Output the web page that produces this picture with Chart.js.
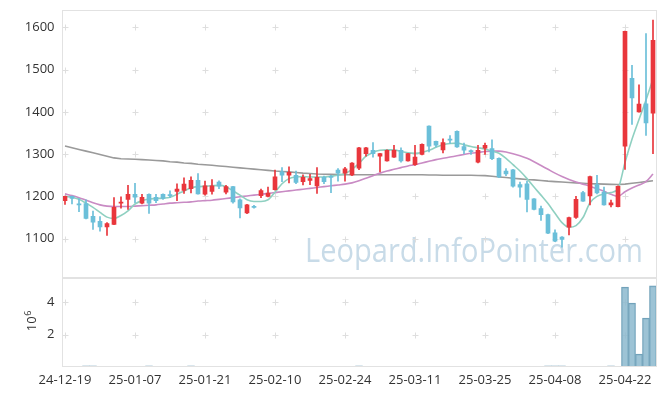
<!DOCTYPE html>
<html><head><meta charset="utf-8">
<script src="https://cdn.jsdelivr.net/npm/chart.js@4/dist/chart.umd.min.js"></script>
<style>html,body{margin:0;padding:0;background:#fff;overflow:hidden}</style>
</head><body>
<canvas id="c" width="665" height="396"></canvas>
<script>
const dates = ["24-12-19","24-12-20","24-12-23","24-12-24","24-12-26","24-12-27","24-12-30","25-01-02","25-01-03","25-01-06",
"25-01-07","25-01-08","25-01-09","25-01-10","25-01-13","25-01-14","25-01-15","25-01-16","25-01-17","25-01-20",
"25-01-21","25-01-22","25-01-23","25-01-24","25-01-31","25-02-03","25-02-04","25-02-05","25-02-06","25-02-07",
"25-02-10","25-02-11","25-02-12","25-02-13","25-02-14","25-02-17","25-02-18","25-02-19","25-02-20","25-02-21",
"25-02-24","25-02-25","25-02-26","25-02-27","25-02-28","25-03-04","25-03-05","25-03-06","25-03-07","25-03-10",
"25-03-11","25-03-12","25-03-13","25-03-14","25-03-17","25-03-18","25-03-19","25-03-20","25-03-21","25-03-24",
"25-03-25","25-03-26","25-03-27","25-03-28","25-03-31","25-04-01","25-04-02","25-04-03","25-04-04","25-04-07",
"25-04-08","25-04-09","25-04-10","25-04-11","25-04-14","25-04-15","25-04-16","25-04-17","25-04-18","25-04-21",
"25-04-22","25-04-23","25-04-24","25-04-25","25-04-28"];

const opens = [1190,1200,1182,1183,1153,1141,1128,1134,1184,1193,
1205,1184,1205,1198,1205,1204,1212,1214,1218,1238,
1205,1212,1234,1210,1223,1192,1161,1176,1202,1200,
1216,1258,1250,1250,1235,1238,1225,1245,1247,1262,
1255,1251,1267,1301,1309,1295,1284,1293,1309,1284,
1275,1299,1366,1330,1310,1335,1354,1318,1308,1281,
1314,1313,1290,1260,1263,1228,1230,1194,1171,1157,
1114,1104,1127,1150,1209,1201,1228,1210,1180,1176,
1319,1479,1400,1419,1397];
const highs = [1201,1201,1195,1192,1165,1152,1138,1197,1199,1226,
1231,1205,1206,1205,1206,1213,1230,1244,1246,1254,
1236,1240,1237,1226,1224,1194,1181,1179,1217,1222,
1262,1268,1270,1260,1251,1252,1268,1248,1250,1266,
1269,1280,1316,1316,1327,1302,1310,1321,1315,1302,
1321,1324,1367,1331,1336,1344,1355,1326,1310,1321,
1326,1334,1291,1266,1264,1234,1236,1195,1177,1158,
1121,1105,1151,1200,1212,1248,1250,1222,1191,1225,
1591,1510,1464,1585,1617];
const lows = [1181,1182,1164,1147,1122,1118,1108,1133,1172,1169,
1185,1182,1160,1185,1193,1197,1190,1207,1208,1205,
1203,1205,1218,1206,1184,1149,1159,1172,1197,1199,
1215,1235,1232,1230,1227,1228,1207,1230,1209,1236,
1236,1249,1263,1295,1293,1258,1283,1292,1281,1283,
1273,1298,1305,1317,1303,1325,1316,1301,1299,1279,
1299,1287,1244,1249,1222,1198,1163,1168,1143,1112,
1093,1080,1109,1148,1188,1180,1206,1179,1175,1175,
1264,1370,1399,1344,1301];
const closes = [1200,1195,1180,1148,1139,1128,1136,1174,1186,1205,
1198,1198,1184,1190,1195,1202,1217,1229,1238,1206,
1225,1225,1224,1223,1187,1173,1180,1174,1214,1208,
1246,1250,1257,1233,1245,1242,1245,1235,1245,1255,
1265,1279,1315,1315,1301,1301,1309,1309,1284,1301,
1293,1323,1319,1321,1327,1333,1317,1309,1306,1309,
1321,1289,1246,1253,1224,1222,1193,1169,1157,1113,
1094,1098,1150,1193,1189,1247,1208,1180,1185,1224,
1590,1433,1418,1374,1569];

const maShort = [1200,1198,1193,1184,1174,1162,1151,1148,1155,1166,
1182,1190,1194,1195,1196,1198,1205,1213,1220,1223,
1224,1225,1226,1223,1213,1203,1192,1188,1188,1192,
1210,1230,1242,1246,1247,1246,1246,1246,1248,1250,
1254,1264,1278,1295,1304,1309,1310,1310,1306,1303,
1302,1304,1309,1316,1322,1325,1326,1322,1318,1315,
1312,1307,1302,1290,1275,1260,1242,1222,1203,1183,
1160,1138,1127,1131,1150,1185,1200,1206,1209,1218,
1280,1335,1382,1428,1478];
const maMid = [1206,1202,1197,1191,1185,1180,1177,1176,1176,1176,
1177,1178,1179,1180,1182,1184,1185,1186,1187,1189,
1190,1191,1193,1195,1197,1199,1201,1203,1205,1207,
1209,1211,1213,1215,1217,1219,1221,1223,1225,1227,
1229,1232,1237,1243,1249,1255,1260,1264,1268,1272,
1275,1279,1283,1287,1290,1293,1296,1299,1302,1304,
1306,1307,1307,1305,1301,1296,1290,1282,1273,1264,
1255,1247,1240,1234,1229,1224,1218,1212,1205,1200,
1211,1220,1227,1235,1253];
const maLong = [1319,1315,1311,1307,1303,1299,1295,1291,1289,1288.5,
1288,1287,1286,1285,1284,1282,1281,1279,1278,1276,
1275,1273.5,1272,1270.5,1269,1267.5,1266,1264.5,1263,1261.5,
1260,1259,1258,1256.5,1255,1254,1253,1252.5,1252,1251.5,
1251,1251,1251,1251,1251,1251,1251,1251,1251,1251,
1251,1251,1250.5,1250.5,1250,1250,1250,1250,1250,1249.5,
1249,1247.5,1246,1244.5,1243,1241.5,1240,1239,1237.5,1236,
1235,1234,1233,1232,1231,1230,1229.5,1229,1228.5,1228,
1229,1231,1233,1235,1237];

// volume in millions of shares (axis title 10^6)
const volume = [0,0,0,0.05,0.05,0,0,0,0,0,
0,0,0.05,0,0,0,0,0,0.05,0,
0,0,0,0,0,0,0,0,0,0,
0,0,0,0,0,0,0,0,0,0,
0,0,0.05,0,0,0,0,0,0,0,
0,0,0,0,0,0,0,0,0,0,
0,0,0,0,0,0,0,0,0,0.05,
0.05,0.05,0,0,0,0,0,0,0.05,0,
4.96,3.96,0.78,3.03,5.03];

const priceTicks = [1100,1200,1300,1400,1500,1600];
const volumeTicks = [2,4];
const labelEvery = 10;

const FONT = '"Open Sans", "Noto Sans", sans-serif';
const UP = '#e9363c', DOWN = '#6bbfd9';
const candleColors = closes.map((c, i) => c >= opens[i] ? UP : DOWN);

const deco = {
  id: 'deco',
  beforeDatasetsDraw(chart) {
    const ctx = chart.ctx, ca = chart.chartArea;
    const xs = chart.scales.x, ys = chart.scales.y, yv = chart.scales.yv;
    ctx.save();
    const wm = 'Leopard.InfoPointer.com';
    ctx.font = '32px ' + FONT;
    const w = ctx.measureText(wm).width;
    ctx.fillStyle = 'rgb(200,219,232)';
    ctx.textBaseline = 'alphabetic';
    ctx.translate(305, 262);
    ctx.scale(338 / w, 1);
    ctx.fillText(wm, 0, 0);
    ctx.restore();

    ctx.save();
    ctx.strokeStyle = '#dedede';
    ctx.lineWidth = 1;
    const cross = (px, py) => {
      const X = Math.round(px) + 0.5, Y = Math.round(py) + 0.5;
      ctx.beginPath();
      ctx.moveTo(X - 3, Y); ctx.lineTo(X + 3, Y);
      ctx.moveTo(X, Y - 3); ctx.lineTo(X, Y + 3);
      ctx.stroke();
    };
    for (let k = 0; k < dates.length; k += labelEvery) {
      const px = xs.getPixelForValue(k);
      priceTicks.forEach(v => cross(px, ys.getPixelForValue(v)));
      volumeTicks.forEach(v => cross(px, yv.getPixelForValue(v)));
    }
    ctx.restore();

    ctx.save();
    ctx.fillStyle = '#333';
    ctx.translate(ca.left - 29, (yv.top + yv.bottom) / 2 - 1);
    ctx.rotate(-Math.PI / 2);
    ctx.textBaseline = 'middle';
    ctx.font = '13px ' + FONT;
    const w1 = ctx.measureText('10').width;
    ctx.font = '9px ' + FONT;
    const w2 = ctx.measureText('6').width;
    const sx = -(w1 + w2) / 2;
    ctx.font = '13px ' + FONT;
    ctx.fillText('10', sx, 0);
    ctx.font = '9px ' + FONT;
    ctx.fillText('6', sx + w1 + 0.5, -4);
    ctx.restore();
  },
  afterDatasetsDraw(chart) {
    const ctx = chart.ctx, ca = chart.chartArea;
    const ys = chart.scales.y, yv = chart.scales.yv;
    ctx.save();
    ctx.strokeStyle = '#e2e2e2';
    ctx.lineWidth = 1;
    const L = Math.round(ca.left) + 0.5, R = Math.round(ca.right) - 0.5;
    [[ys.top, ys.bottom], [yv.top, yv.bottom]].forEach(([t, b]) => {
      const T = Math.round(t) + 0.5, B = Math.round(b) - 0.5;
      ctx.strokeRect(L, T, R - L, B - T);
    });
    ctx.restore();
  }
};

Chart.defaults.font.family = FONT;
Chart.defaults.font.size = 13;
Chart.defaults.color = '#333';

function fitY(s) { s.width = 61.5; s.paddingTop = 0; s.paddingBottom = 0; }

new Chart(document.getElementById('c'), {
  type: 'bar',
  data: {
    labels: dates,
    datasets: [
      { type: 'bar', label: 'body', data: opens.map((o, i) => [o, closes[i]]),
        backgroundColor: candleColors, barThickness: 4, minBarLength: 1, grouped: false, yAxisID: 'y', order: 0 },
      { type: 'bar', label: 'wick', data: lows.map((l, i) => [l, highs[i]]),
        backgroundColor: candleColors, barThickness: 1, grouped: false, yAxisID: 'y', order: 1 },
      { type: 'line', label: 'MA short', data: maShort, borderColor: '#8fd0c1', borderWidth: 1.6,
        pointRadius: 0, cubicInterpolationMode: 'monotone', yAxisID: 'y', order: 2 },
      { type: 'line', label: 'MA mid', data: maMid, borderColor: '#c98bc4', borderWidth: 1.6,
        pointRadius: 0, cubicInterpolationMode: 'monotone', yAxisID: 'y', order: 3 },
      { type: 'line', label: 'MA long', data: maLong, borderColor: '#9a9a9a', borderWidth: 1.6,
        pointRadius: 0, tension: 0, yAxisID: 'y', order: 4 },
      { type: 'bar', label: 'volume', data: volume.map(v => v > 0 ? v : null),
        backgroundColor: 'rgba(140,184,206,0.85)', borderColor: '#6b9db6', borderWidth: 1,
        barPercentage: 1, categoryPercentage: 1, grouped: false, yAxisID: 'yv', order: 5 }
    ]
  },
  options: {
    responsive: false, animation: false, devicePixelRatio: 1,
    layout: { padding: { top: 10.3, right: 8.5, left: 0, bottom: 0 } },
    plugins: { legend: { display: false }, tooltip: { enabled: false } },
    scales: {
      x: {
        type: 'category', offset: true,
        grid: { display: false, drawTicks: false }, border: { display: false },
        ticks: { autoSkip: false, maxRotation: 0, minRotation: 0, padding: 6, color: '#333',
          font: { size: 13 },
          callback(v, i) { return i % labelEvery === 0 ? this.getLabelForValue(v) : ''; } },
        afterFit(s) { s.height = 29.3; s.paddingLeft = 0; s.paddingRight = 0; }
      },
      yv: {
        position: 'left', stack: 'panels', stackWeight: 1, min: 0, max: 5.55,
        grid: { display: false, drawTicks: false }, border: { display: false },
        afterBuildTicks(s) { s.ticks = volumeTicks.map(v => ({ value: v })); },
        ticks: { padding: 7, color: '#333', font: { size: 13 },
          callback(v) { return String(v); } },
        afterFit: fitY
      },
      y: {
        position: 'left', stack: 'panels', stackWeight: 3, min: 1008, max: 1640,
        grid: { display: false, drawTicks: false }, border: { display: false },
        afterBuildTicks(s) { s.ticks = priceTicks.map(v => ({ value: v })); },
        ticks: { padding: 7, color: '#333', font: { size: 13 },
          callback(v) { return String(v); } },
        afterFit: fitY
      }
    }
  },
  plugins: [deco]
});
</script>
</body></html>
